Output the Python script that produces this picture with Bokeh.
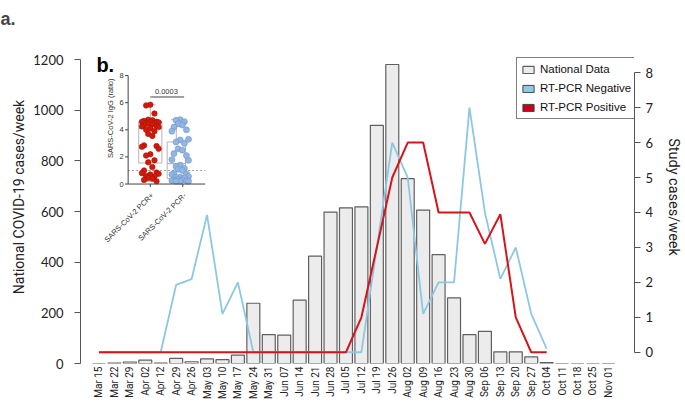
import math
from bokeh.plotting import figure
from bokeh.models import (Range1d, LinearAxis, FixedTicker, Legend, LegendItem, Label)
from bokeh.core.properties import value
from bokeh.embed import file_html
from bokeh.resources import INLINE

# ---------------- data ----------------
weeks = ["Mar 15", "Mar 22", "Mar 29", "Apr 02", "Apr 12", "Apr 29", "Apr 26", "May 03",
         "May 10", "May 17", "May 24", "May 31", "Jun 07", "Jun 14", "Jun 21", "Jun 28",
         "Jul 05", "Jul 12", "Jul 19", "Jul 26", "Aug 02", "Aug 09", "Aug 16", "Aug 23",
         "Aug 30", "Sep 06", "Sep 13", "Sep 20", "Sep 27", "Oct 04", "Oct 11", "Oct 18",
         "Oct 25", "Nov 01"]
national = [0, 2, 6, 13, 2, 20, 7, 18, 15, 33, 238, 114, 112, 250, 424, 598, 615, 619,
            941, 1181, 730, 606, 430, 259, 114, 127, 46, 46, 26, 4, 0, 0, 0, 0]
rtpcr_neg = [0, 0, 0, 0, 0, 1.93, 2.09, 3.93, 1.1, 2.0, 0, 0, 0, 0, 0, 0, 0, 0,
             3, 6, 5, 1.1, 2, 2, 7, 4, 2.1, 3, 1.1, 0.1]
rtpcr_pos = [0, 0, 0, 0, 0, 0, 0, 0, 0, 0, 0, 0, 0, 0, 0, 0, 0, 1,
             3, 5, 6, 6, 4, 4, 4, 3.1, 3.95, 1, 0, 0]
left_ticks = [0, 200, 400, 600, 800, 1000, 1200]
right_ticks = [0, 1, 2, 3, 4, 5, 6, 7, 8]

# inset (panel b)
inset_groups = ["SARS-CoV-2 PCR+", "SARS-CoV-2 PCR-"]
igg_pos = [5.85, 5.8, 5.2, 4.75, 4.7, 4.65, 4.6, 4.6, 4.55, 4.55, 4.5, 4.5, 4.45, 4.4,
           4.35, 4.3, 4.25, 4.2, 4.1, 4.0, 3.9, 3.7, 3.55, 2.85, 2.8, 2.75, 2.6, 2.2,
           2.1, 1.75, 1.6, 1.25, 1.0, 0.85, 0.8, 0.75, 0.7, 0.6, 0.55, 0.45, 0.4, 0.3, 0.2]
igg_neg = [4.75, 4.7, 4.6, 4.45, 4.35, 4.2, 4.0, 3.9, 3.3, 3.25, 3.1, 3.0, 2.6, 2.5,
           2.25, 2.1, 1.8, 1.75, 1.4, 1.3, 1.15, 1.1, 1.0, 0.8, 0.75, 0.7, 0.55, 0.5,
           0.5, 0.45, 0.35, 0.3, 0.3, 0.25, 0.25, 0.2, 0.2, 0.2]
box_lo = [0.2, 0.2]
box_q1 = [1.55, 0.4]
box_med = [4.1, 1.5]
box_q3 = [4.6, 3.1]
box_hi = [5.85, 4.75]
inset_ticks = [0, 2, 4, 6, 8]
p_value = "0.0003"
igg_cutoff = 1.0

# ---------------- figure ----------------
TICKFONT = "Lato"
LABELFONT = "Roboto"
p = figure(width=685, height=402, output_backend="svg", toolbar_location=None,
           x_range=Range1d(-1.196, 34.69), y_range=Range1d(0, 1315.4),
           min_border_left=80, min_border_right=47, min_border_top=30, min_border_bottom=38)
p.outline_line_color = None
p.xgrid.visible = False
p.ygrid.visible = False
p.background_fill_color = "white"
p.border_fill_color = "white"

p.title.text = "a."
p.title.text_font = "Liberation Sans"
p.title.text_font_style = "bold"
p.title.text_font_size = "18px"
p.title.align = "left"
p.title.offset = -80
p.title.standoff = 0
p.title.vertical_align = "top"

p.extra_y_ranges = {"study": Range1d(-0.3224, 9.207), "iy": Range1d(-13.235, 11.324)}
p.extra_x_ranges = {"ix": Range1d(-1.683, 19.615)}

idx = list(range(len(weeks)))

# x axis
xa = p.xaxis[0]
xa.ticker = FixedTicker(ticks=idx)
xa.major_label_overrides = {i: w for i, w in enumerate(weeks)}
xa.major_label_orientation = math.pi / 2
xa.axis_line_color = None
xa.major_tick_line_color = None
xa.major_tick_out = 0
xa.major_tick_in = 0
xa.minor_tick_line_color = None
xa.major_label_standoff = 3
xa.major_label_text_font = LABELFONT
xa.major_label_text_font_size = "10px"
xa.major_label_text_color = "#222222"

# left axis
ya = p.yaxis[0]
ya.ticker = FixedTicker(ticks=left_ticks)
ya.bounds = (0, 1200)
ya.axis_label = "National COVID-19 cases/week"
ya.axis_label_text_font = LABELFONT
ya.axis_label_text_font_size = "14px"
ya.axis_label_text_font_style = "normal"
ya.axis_label_text_color = "#222222"
ya.axis_label_standoff = 3
ya.major_label_text_font = TICKFONT
ya.major_label_text_font_size = "13px"
ya.major_label_text_color = "#222222"
ya.major_label_standoff = 11
ya.axis_line_color = "#555555"
ya.major_tick_line_color = "#555555"
ya.major_tick_out = 6
ya.major_tick_in = 0
ya.minor_tick_line_color = None

# right axis
ra = LinearAxis(y_range_name="study", ticker=FixedTicker(ticks=right_ticks), bounds=(0, 8),
                axis_label="Study cases/week")
ra.axis_label_text_font = LABELFONT
ra.axis_label_text_font_size = "14.5px"
ra.axis_label_text_font_style = "normal"
ra.axis_label_text_color = "#222222"
ra.axis_label_standoff = 9
ra.major_label_text_font = TICKFONT
ra.major_label_text_font_size = "13px"
ra.major_label_text_color = "#222222"
ra.major_label_standoff = 5
ra.axis_line_color = "#555555"
ra.major_tick_line_color = "#555555"
ra.major_tick_out = 6
ra.major_tick_in = 0
ra.minor_tick_line_color = None
p.add_layout(ra, "right")

# bars
bars = p.vbar(x=idx, top=national, bottom=0, width=0.84, fill_color="#ececec",
              line_color="#5f5f5f", line_width=1.2)

# lines
p.line(x=list(range(len(rtpcr_neg))), y=rtpcr_neg, y_range_name="study",
       line_color="#8cc8e4", line_width=1.8)
p.line(x=list(range(len(rtpcr_pos))), y=rtpcr_pos, y_range_name="study",
       line_color="#d4151b", line_width=2)

# legend proxies (no drawable data; only provide the legend swatches)
nan = float("nan")
neg_proxy = p.vbar(x=[0], top=[nan], bottom=[nan], width=0.8, fill_color="#8ecae6",
                   line_color="#444444")
pos_proxy = p.vbar(x=[0], top=[nan], bottom=[nan], width=0.8, fill_color="#c8001a",
                   line_color="#444444")

legend = Legend(items=[LegendItem(label="National Data", renderers=[bars]),
                       LegendItem(label="RT-PCR Negative", renderers=[neg_proxy]),
                       LegendItem(label="RT-PCR Positive", renderers=[pos_proxy])],
                location=(436, 244), margin=0, padding=4, spacing=5,
                glyph_width=14, glyph_height=9, label_height=14, label_standoff=5,
                label_text_font="Liberation Sans", label_text_font_size="11.5px",
                label_text_color="#111111",
                border_line_color="black", border_line_width=1,
                background_fill_color="white", background_fill_alpha=1)
p.add_layout(legend)

# ---------------- inset (panel b) ----------------
IX, IY = "ix", "iy"
ax_left = 0.149
ax_right = 3.11
box_x = [1.0, 2.0]
box_hw = [0.445, 0.35]
pts_center = [1.0, 2.15]
tick_x = [1.0, 2.25]
ink = "#444444"
ifont = value("Liberation Sans")
isize = value("7.5px")

p.segment(x0=[ax_left], y0=[igg_cutoff], x1=[ax_right], y1=[igg_cutoff],
          x_range_name=IX, y_range_name=IY, line_color="#a0a0a0", line_width=1,
          line_dash="2 2")

lefts = [c - h for c, h in zip(box_x, box_hw)]
rights = [c + h for c, h in zip(box_x, box_hw)]
p.quad(left=lefts, right=rights, bottom=box_q1, top=box_q3, x_range_name=IX, y_range_name=IY,
       fill_color=None, line_color="#b5b5b5", line_width=1)
p.segment(x0=lefts, y0=box_med, x1=rights, y1=box_med,
          x_range_name=IX, y_range_name=IY, line_color="#a8a8a8", line_width=1)
p.segment(x0=box_x, y0=box_q3, x1=box_x, y1=box_hi, x_range_name=IX, y_range_name=IY,
          line_color="#b5b5b5", line_width=1)
p.segment(x0=box_x, y0=box_q1, x1=box_x, y1=box_lo, x_range_name=IX, y_range_name=IY,
          line_color="#b5b5b5", line_width=1)
p.segment(x0=[c - 0.2 for c in box_x], y0=box_hi, x1=[c + 0.2 for c in box_x], y1=box_hi,
          x_range_name=IX, y_range_name=IY, line_color="#b5b5b5", line_width=1)
p.segment(x0=[c - 0.2 for c in box_x], y0=box_lo, x1=[c + 0.2 for c in box_x], y1=box_lo,
          x_range_name=IX, y_range_name=IY, line_color="#b5b5b5", line_width=1)

spread = [0.0, -0.16, 0.16, -0.08, 0.08, -0.24, 0.24, -0.32, 0.32]
pos_x = [pts_center[0] + spread[i % len(spread)] for i in range(len(igg_pos))]
neg_x = [pts_center[1] + spread[i % len(spread)] for i in range(len(igg_neg))]
p.scatter(x=pos_x, y=igg_pos, x_range_name=IX, y_range_name=IY, size=5.5,
          fill_color="#d11a0a", line_color="#a81206", line_width=0.6)
p.scatter(x=neg_x, y=igg_neg, x_range_name=IX, y_range_name=IY, size=6,
          fill_color="#92b6e4", line_color="#6f94c8", line_width=0.6)

p.segment(x0=[ax_left], y0=[0], x1=[ax_left], y1=[8], x_range_name=IX, y_range_name=IY,
          line_color=ink, line_width=1)
p.segment(x0=[ax_left], y0=[0], x1=[ax_right], y1=[0], x_range_name=IX, y_range_name=IY,
          line_color=ink, line_width=1)
p.segment(x0=[ax_left] * len(inset_ticks), y0=inset_ticks,
          x1=[ax_left - 0.12] * len(inset_ticks), y1=inset_ticks,
          x_range_name=IX, y_range_name=IY, line_color=ink, line_width=1)
p.text(x=[ax_left - 0.17] * len(inset_ticks), y=inset_ticks, text=[str(t) for t in inset_ticks],
       x_range_name=IX, y_range_name=IY, text_font=ifont, text_font_size=isize,
       text_align="right", text_baseline="middle", text_color="#333333")
p.segment(x0=tick_x, y0=[0, 0], x1=tick_x, y1=[-0.22, -0.22], x_range_name=IX, y_range_name=IY,
          line_color=ink, line_width=1)
p.text(x=[t + 0.08 for t in tick_x], y=[-0.75, -0.75], text=inset_groups,
       x_range_name=IX, y_range_name=IY, text_font=ifont, text_font_size=isize,
       text_align="right", text_baseline="middle", angle=math.pi / 4, text_color="#333333")
p.text(x=[-0.52], y=[4.85], text=["SARS-CoV-2 IgG (ratio)"], x_range_name=IX, y_range_name=IY,
       text_font=ifont, text_font_size=isize, text_align="center", text_baseline="middle",
       angle=math.pi / 2, text_color="#333333")
p.segment(x0=[1.0], y0=[6.42], x1=[2.3], y1=[6.42], x_range_name=IX, y_range_name=IY,
          line_color=ink, line_width=1)
p.text(x=[1.62], y=[6.62], text=[p_value], x_range_name=IX, y_range_name=IY,
       text_font=ifont, text_font_size=isize, text_align="center", text_baseline="bottom",
       text_color="#333333")

p.add_layout(Label(x=-0.167, y=1177.5, text="b.", text_font="Liberation Sans",
                   text_font_style="bold", text_font_size="20px", text_baseline="alphabetic",
                   text_color="black"))

open("out.html", "w").write(file_html(p, INLINE))
